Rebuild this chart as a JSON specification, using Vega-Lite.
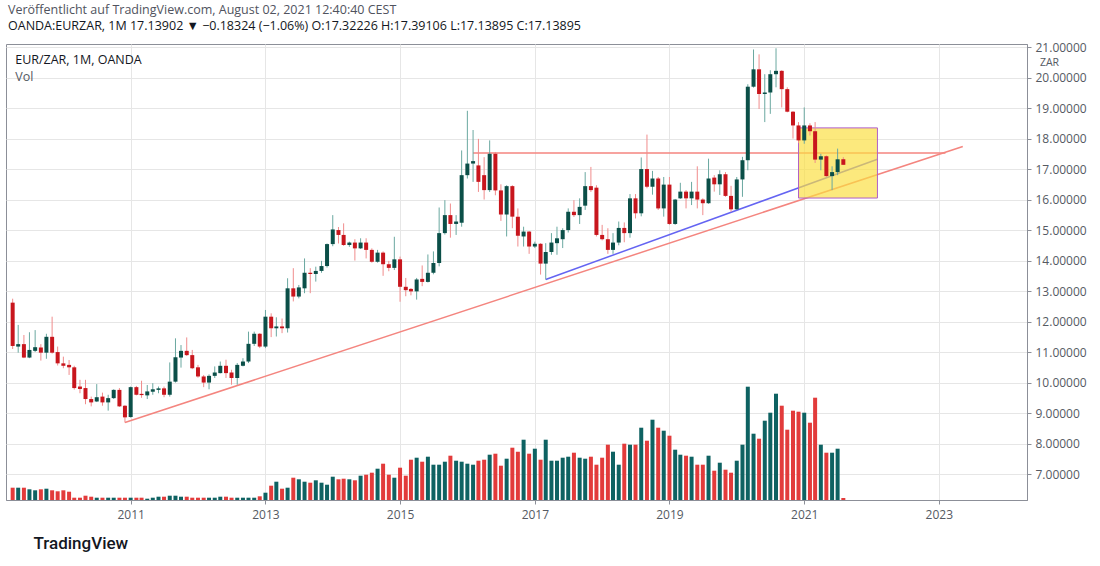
{
  "$schema": "https://vega.github.io/schema/vega-lite/v6.json",
  "autosize": {"type": "none"},
  "width": 1021,
  "height": 456,
  "padding": {"left": 6, "top": 44, "right": 73, "bottom": 66},
  "background": "white",
  "config": {
    "font": "Open Sans",
    "view": {"stroke": "#8c8f98", "strokeWidth": 1},
    "axis": {
      "labelFont": "Open Sans",
      "labelFontSize": 12,
      "labelColor": "#555a63",
      "domainColor": "#8c8f98",
      "tickColor": "#8c8f98",
      "grid": true,
      "gridColor": "#e6e6e6",
      "tickSize": 4,
      "labelOverlap": false
    }
  },
  "title": {
    "text": "Veröffentlicht auf TradingView.com, August 02, 2021 12:40:40 CEST",
    "subtitle": "OANDA:EURZAR, 1M  17.13902 ▼ −0.18324 (−1.06%)  O:17.32226  H:17.39106  L:17.13895  C:17.13895",
    "anchor": "start",
    "frame": "group",
    "font": "Open Sans",
    "fontSize": 12.5,
    "fontWeight": "normal",
    "color": "#50535e",
    "subtitleFont": "Open Sans",
    "subtitleFontSize": 12.5,
    "subtitleColor": "#131722",
    "subtitlePadding": 3,
    "offset": 9,
    "dx": 2
  },
  "data": {
    "values": [
      {"date": "2009-04-01", "open": 12.62, "high": 12.75, "low": 11.1, "close": 11.2, "volume": 123000},
      {"date": "2009-05-01", "open": 11.18, "high": 11.89, "low": 10.98, "close": 11.26, "volume": 123000},
      {"date": "2009-06-01", "open": 11.26, "high": 11.56, "low": 10.8, "close": 10.82, "volume": 123000},
      {"date": "2009-07-01", "open": 10.82, "high": 11.65, "low": 10.8, "close": 11.07, "volume": 107000},
      {"date": "2009-08-01", "open": 11.04, "high": 11.72, "low": 11.0, "close": 11.16, "volume": 97000},
      {"date": "2009-09-01", "open": 11.15, "high": 11.26, "low": 10.72, "close": 10.98, "volume": 107000},
      {"date": "2009-10-01", "open": 10.98, "high": 11.6, "low": 10.78, "close": 11.5, "volume": 113000},
      {"date": "2009-11-01", "open": 11.5, "high": 12.16, "low": 10.95, "close": 10.98, "volume": 97000},
      {"date": "2009-12-01", "open": 11.0, "high": 11.18, "low": 10.56, "close": 10.63, "volume": 87000},
      {"date": "2010-01-01", "open": 10.63, "high": 10.85, "low": 10.47, "close": 10.55, "volume": 97000},
      {"date": "2010-02-01", "open": 10.58, "high": 10.74, "low": 10.25, "close": 10.5, "volume": 83000},
      {"date": "2010-03-01", "open": 10.5, "high": 10.55, "low": 9.77, "close": 9.82, "volume": 23000},
      {"date": "2010-04-01", "open": 9.87, "high": 10.09, "low": 9.65, "close": 9.79, "volume": 23000},
      {"date": "2010-05-01", "open": 9.82, "high": 10.09, "low": 9.29, "close": 9.46, "volume": 43000},
      {"date": "2010-06-01", "open": 9.46, "high": 9.54, "low": 9.22, "close": 9.35, "volume": 33000},
      {"date": "2010-07-01", "open": 9.38, "high": 9.95, "low": 9.36, "close": 9.52, "volume": 23000},
      {"date": "2010-08-01", "open": 9.54, "high": 9.67, "low": 9.24, "close": 9.35, "volume": 23000},
      {"date": "2010-09-01", "open": 9.35, "high": 9.6, "low": 9.08, "close": 9.49, "volume": 23000},
      {"date": "2010-10-01", "open": 9.49, "high": 9.78, "low": 9.46, "close": 9.76, "volume": 23000},
      {"date": "2010-11-01", "open": 9.76, "high": 9.82, "low": 9.2, "close": 9.22, "volume": 23000},
      {"date": "2010-12-01", "open": 9.24, "high": 9.26, "low": 8.69, "close": 8.86, "volume": 23000},
      {"date": "2011-01-01", "open": 8.87, "high": 9.87, "low": 8.85, "close": 9.85, "volume": 23000},
      {"date": "2011-02-01", "open": 9.85, "high": 9.89, "low": 9.58, "close": 9.6, "volume": 23000},
      {"date": "2011-03-01", "open": 9.63, "high": 10.06, "low": 9.5, "close": 9.59, "volume": 23000},
      {"date": "2011-04-01", "open": 9.58, "high": 9.92, "low": 9.46, "close": 9.71, "volume": 13000},
      {"date": "2011-05-01", "open": 9.7, "high": 9.98, "low": 9.6, "close": 9.78, "volume": 23000},
      {"date": "2011-06-01", "open": 9.76, "high": 9.87, "low": 9.65, "close": 9.81, "volume": 33000},
      {"date": "2011-07-01", "open": 9.81, "high": 9.87, "low": 9.52, "close": 9.6, "volume": 33000},
      {"date": "2011-08-01", "open": 9.6, "high": 10.66, "low": 9.54, "close": 10.03, "volume": 43000},
      {"date": "2011-09-01", "open": 10.03, "high": 11.45, "low": 10.0, "close": 10.83, "volume": 43000},
      {"date": "2011-10-01", "open": 10.82, "high": 11.23, "low": 10.49, "close": 11.04, "volume": 33000},
      {"date": "2011-11-01", "open": 11.04, "high": 11.48, "low": 10.87, "close": 10.9, "volume": 33000},
      {"date": "2011-12-01", "open": 10.9, "high": 11.07, "low": 10.44, "close": 10.47, "volume": 23000},
      {"date": "2012-01-01", "open": 10.5, "high": 10.58, "low": 10.16, "close": 10.2, "volume": 23000},
      {"date": "2012-02-01", "open": 10.2, "high": 10.25, "low": 9.85, "close": 10.0, "volume": 23000},
      {"date": "2012-03-01", "open": 10.0, "high": 10.27, "low": 9.78, "close": 10.22, "volume": 23000},
      {"date": "2012-04-01", "open": 10.22, "high": 10.53, "low": 10.15, "close": 10.33, "volume": 23000},
      {"date": "2012-05-01", "open": 10.31, "high": 10.69, "low": 10.3, "close": 10.55, "volume": 33000},
      {"date": "2012-06-01", "open": 10.55, "high": 10.75, "low": 10.15, "close": 10.31, "volume": 33000},
      {"date": "2012-07-01", "open": 10.33, "high": 10.42, "low": 9.93, "close": 10.15, "volume": 23000},
      {"date": "2012-08-01", "open": 10.15, "high": 10.64, "low": 9.93, "close": 10.58, "volume": 23000},
      {"date": "2012-09-01", "open": 10.55, "high": 10.8, "low": 10.53, "close": 10.69, "volume": 23000},
      {"date": "2012-10-01", "open": 10.69, "high": 11.67, "low": 10.64, "close": 11.27, "volume": 23000},
      {"date": "2012-11-01", "open": 11.27, "high": 11.67, "low": 11.2, "close": 11.6, "volume": 23000},
      {"date": "2012-12-01", "open": 11.6, "high": 11.62, "low": 11.13, "close": 11.18, "volume": 37000},
      {"date": "2013-01-01", "open": 11.18, "high": 12.38, "low": 11.13, "close": 12.16, "volume": 73000},
      {"date": "2013-02-01", "open": 12.16, "high": 12.27, "low": 11.49, "close": 11.78, "volume": 143000},
      {"date": "2013-03-01", "open": 11.78, "high": 12.14, "low": 11.51, "close": 11.84, "volume": 183000},
      {"date": "2013-04-01", "open": 11.84, "high": 12.1, "low": 11.62, "close": 11.78, "volume": 113000},
      {"date": "2013-05-01", "open": 11.78, "high": 13.42, "low": 11.64, "close": 13.09, "volume": 123000},
      {"date": "2013-06-01", "open": 13.09, "high": 13.75, "low": 12.66, "close": 12.82, "volume": 223000},
      {"date": "2013-07-01", "open": 12.82, "high": 13.2, "low": 12.76, "close": 13.12, "volume": 207000},
      {"date": "2013-08-01", "open": 13.09, "high": 14.07, "low": 12.93, "close": 13.6, "volume": 183000},
      {"date": "2013-09-01", "open": 13.6, "high": 13.75, "low": 12.93, "close": 13.56, "volume": 173000},
      {"date": "2013-10-01", "open": 13.56, "high": 13.8, "low": 13.31, "close": 13.66, "volume": 197000},
      {"date": "2013-11-01", "open": 13.66, "high": 13.99, "low": 13.6, "close": 13.82, "volume": 173000},
      {"date": "2013-12-01", "open": 13.82, "high": 14.56, "low": 13.77, "close": 14.54, "volume": 153000},
      {"date": "2014-01-01", "open": 14.54, "high": 15.49, "low": 14.47, "close": 15.02, "volume": 233000},
      {"date": "2014-02-01", "open": 15.0, "high": 15.1, "low": 14.56, "close": 14.84, "volume": 207000},
      {"date": "2014-03-01", "open": 14.84, "high": 15.22, "low": 14.48, "close": 14.51, "volume": 213000},
      {"date": "2014-04-01", "open": 14.51, "high": 14.62, "low": 14.45, "close": 14.59, "volume": 207000},
      {"date": "2014-05-01", "open": 14.59, "high": 14.7, "low": 14.0, "close": 14.4, "volume": 197000},
      {"date": "2014-06-01", "open": 14.4, "high": 14.73, "low": 14.38, "close": 14.59, "volume": 243000},
      {"date": "2014-07-01", "open": 14.59, "high": 14.73, "low": 14.07, "close": 14.35, "volume": 253000},
      {"date": "2014-08-01", "open": 14.35, "high": 14.4, "low": 13.93, "close": 13.96, "volume": 273000},
      {"date": "2014-09-01", "open": 13.96, "high": 14.35, "low": 13.93, "close": 14.26, "volume": 313000},
      {"date": "2014-10-01", "open": 14.26, "high": 14.3, "low": 13.5, "close": 13.88, "volume": 363000},
      {"date": "2014-11-01", "open": 13.88, "high": 13.99, "low": 13.65, "close": 13.76, "volume": 253000},
      {"date": "2014-12-01", "open": 13.76, "high": 14.78, "low": 13.69, "close": 14.04, "volume": 223000},
      {"date": "2015-01-01", "open": 14.04, "high": 14.13, "low": 12.65, "close": 13.14, "volume": 323000},
      {"date": "2015-02-01", "open": 13.14, "high": 13.43, "low": 12.83, "close": 13.03, "volume": 243000},
      {"date": "2015-03-01", "open": 13.07, "high": 13.1, "low": 12.86, "close": 12.99, "volume": 403000},
      {"date": "2015-04-01", "open": 12.99, "high": 13.43, "low": 12.72, "close": 13.38, "volume": 423000},
      {"date": "2015-05-01", "open": 13.4, "high": 13.84, "low": 13.16, "close": 13.3, "volume": 383000},
      {"date": "2015-06-01", "open": 13.3, "high": 14.2, "low": 13.28, "close": 13.6, "volume": 433000},
      {"date": "2015-07-01", "open": 13.6, "high": 14.3, "low": 13.55, "close": 13.92, "volume": 353000},
      {"date": "2015-08-01", "open": 13.92, "high": 15.74, "low": 13.81, "close": 14.9, "volume": 353000},
      {"date": "2015-09-01", "open": 14.9, "high": 15.98, "low": 14.85, "close": 15.49, "volume": 383000},
      {"date": "2015-10-01", "open": 15.49, "high": 15.87, "low": 14.75, "close": 15.2, "volume": 443000},
      {"date": "2015-11-01", "open": 15.2, "high": 15.49, "low": 14.84, "close": 15.28, "volume": 393000},
      {"date": "2015-12-01", "open": 15.24, "high": 17.61, "low": 15.11, "close": 16.8, "volume": 383000},
      {"date": "2016-01-01", "open": 16.8, "high": 18.91, "low": 16.69, "close": 17.18, "volume": 363000},
      {"date": "2016-02-01", "open": 17.18, "high": 18.28, "low": 16.58, "close": 17.26, "volume": 353000},
      {"date": "2016-03-01", "open": 17.12, "high": 17.99, "low": 16.25, "close": 16.58, "volume": 393000},
      {"date": "2016-04-01", "open": 16.8, "high": 17.39, "low": 16.0, "close": 16.31, "volume": 403000},
      {"date": "2016-05-01", "open": 16.31, "high": 17.94, "low": 16.25, "close": 17.5, "volume": 453000},
      {"date": "2016-06-01", "open": 17.5, "high": 17.56, "low": 16.14, "close": 16.3, "volume": 463000},
      {"date": "2016-07-01", "open": 16.3, "high": 16.5, "low": 15.3, "close": 15.51, "volume": 343000},
      {"date": "2016-08-01", "open": 15.51, "high": 16.47, "low": 14.79, "close": 16.44, "volume": 413000},
      {"date": "2016-09-01", "open": 16.44, "high": 16.47, "low": 15.06, "close": 15.44, "volume": 523000},
      {"date": "2016-10-01", "open": 15.44, "high": 15.71, "low": 14.46, "close": 14.81, "volume": 483000},
      {"date": "2016-11-01", "open": 14.79, "high": 15.11, "low": 14.46, "close": 14.95, "volume": 603000},
      {"date": "2016-12-01", "open": 14.95, "high": 14.97, "low": 14.22, "close": 14.46, "volume": 463000},
      {"date": "2017-01-01", "open": 14.46, "high": 14.62, "low": 14.41, "close": 14.55, "volume": 513000},
      {"date": "2017-02-01", "open": 14.55, "high": 14.57, "low": 13.54, "close": 13.9, "volume": 403000},
      {"date": "2017-03-01", "open": 13.9, "high": 14.57, "low": 13.38, "close": 14.28, "volume": 603000},
      {"date": "2017-04-01", "open": 14.28, "high": 14.9, "low": 14.19, "close": 14.59, "volume": 393000},
      {"date": "2017-05-01", "open": 14.57, "high": 15.11, "low": 14.19, "close": 14.73, "volume": 393000},
      {"date": "2017-06-01", "open": 14.7, "high": 15.06, "low": 14.41, "close": 15.0, "volume": 423000},
      {"date": "2017-07-01", "open": 15.0, "high": 15.71, "low": 14.92, "close": 15.6, "volume": 433000},
      {"date": "2017-08-01", "open": 15.6, "high": 15.98, "low": 15.43, "close": 15.49, "volume": 473000},
      {"date": "2017-09-01", "open": 15.49, "high": 16.04, "low": 15.2, "close": 15.76, "volume": 423000},
      {"date": "2017-10-01", "open": 15.8, "high": 16.9, "low": 15.66, "close": 16.44, "volume": 413000},
      {"date": "2017-11-01", "open": 16.44, "high": 17.07, "low": 16.25, "close": 16.31, "volume": 433000},
      {"date": "2017-12-01", "open": 16.39, "high": 16.47, "low": 14.79, "close": 14.84, "volume": 353000},
      {"date": "2018-01-01", "open": 14.84, "high": 15.17, "low": 14.66, "close": 14.7, "volume": 423000},
      {"date": "2018-02-01", "open": 14.7, "high": 15.06, "low": 14.22, "close": 14.35, "volume": 553000},
      {"date": "2018-03-01", "open": 14.35, "high": 14.9, "low": 14.22, "close": 14.59, "volume": 483000},
      {"date": "2018-04-01", "open": 14.59, "high": 15.28, "low": 14.5, "close": 15.07, "volume": 353000},
      {"date": "2018-05-01", "open": 15.07, "high": 15.25, "low": 14.6, "close": 14.9, "volume": 563000},
      {"date": "2018-06-01", "open": 14.9, "high": 16.18, "low": 14.75, "close": 16.04, "volume": 553000},
      {"date": "2018-07-01", "open": 16.04, "high": 16.18, "low": 15.38, "close": 15.55, "volume": 553000},
      {"date": "2018-08-01", "open": 15.55, "high": 17.38, "low": 15.45, "close": 17.0, "volume": 723000},
      {"date": "2018-09-01", "open": 17.0, "high": 18.13, "low": 16.37, "close": 16.42, "volume": 593000},
      {"date": "2018-10-01", "open": 16.42, "high": 16.94, "low": 16.16, "close": 16.69, "volume": 803000},
      {"date": "2018-11-01", "open": 16.69, "high": 16.74, "low": 15.66, "close": 15.71, "volume": 723000},
      {"date": "2018-12-01", "open": 15.71, "high": 16.74, "low": 15.44, "close": 16.49, "volume": 693000},
      {"date": "2019-01-01", "open": 16.49, "high": 16.74, "low": 15.17, "close": 15.2, "volume": 643000},
      {"date": "2019-02-01", "open": 15.2, "high": 16.02, "low": 15.17, "close": 16.0, "volume": 503000},
      {"date": "2019-03-01", "open": 16.04, "high": 16.55, "low": 16.02, "close": 16.26, "volume": 453000},
      {"date": "2019-04-01", "open": 16.26, "high": 16.31, "low": 15.71, "close": 16.04, "volume": 443000},
      {"date": "2019-05-01", "open": 16.04, "high": 16.58, "low": 15.82, "close": 16.26, "volume": 433000},
      {"date": "2019-06-01", "open": 16.26, "high": 17.09, "low": 15.71, "close": 16.0, "volume": 353000},
      {"date": "2019-07-01", "open": 16.0, "high": 16.04, "low": 15.49, "close": 15.88, "volume": 353000},
      {"date": "2019-08-01", "open": 15.88, "high": 17.34, "low": 15.86, "close": 16.69, "volume": 443000},
      {"date": "2019-09-01", "open": 16.72, "high": 16.8, "low": 16.26, "close": 16.5, "volume": 293000},
      {"date": "2019-10-01", "open": 16.5, "high": 16.96, "low": 16.15, "close": 16.83, "volume": 373000},
      {"date": "2019-11-01", "open": 16.83, "high": 16.9, "low": 16.09, "close": 16.12, "volume": 303000},
      {"date": "2019-12-01", "open": 16.12, "high": 16.45, "low": 15.6, "close": 15.68, "volume": 273000},
      {"date": "2020-01-01", "open": 15.68, "high": 16.74, "low": 15.66, "close": 16.66, "volume": 393000},
      {"date": "2020-02-01", "open": 16.66, "high": 17.4, "low": 16.09, "close": 17.29, "volume": 553000},
      {"date": "2020-03-01", "open": 17.29, "high": 19.78, "low": 16.96, "close": 19.7, "volume": 1133000},
      {"date": "2020-04-01", "open": 19.7, "high": 20.92, "low": 19.67, "close": 20.27, "volume": 663000},
      {"date": "2020-05-01", "open": 20.27, "high": 20.76, "low": 18.97, "close": 19.46, "volume": 613000},
      {"date": "2020-06-01", "open": 19.46, "high": 20.11, "low": 18.54, "close": 19.51, "volume": 793000},
      {"date": "2020-07-01", "open": 19.51, "high": 20.24, "low": 18.81, "close": 20.11, "volume": 873000},
      {"date": "2020-08-01", "open": 20.11, "high": 20.96, "low": 19.68, "close": 20.22, "volume": 1063000},
      {"date": "2020-09-01", "open": 20.22, "high": 20.24, "low": 19.02, "close": 19.62, "volume": 943000},
      {"date": "2020-10-01", "open": 19.62, "high": 19.68, "low": 18.86, "close": 18.88, "volume": 703000},
      {"date": "2020-11-01", "open": 18.88, "high": 18.9, "low": 18.0, "close": 18.43, "volume": 893000},
      {"date": "2020-12-01", "open": 18.43, "high": 18.54, "low": 17.85, "close": 17.94, "volume": 883000},
      {"date": "2021-01-01", "open": 17.94, "high": 19.02, "low": 17.83, "close": 18.43, "volume": 873000},
      {"date": "2021-02-01", "open": 18.43, "high": 18.5, "low": 18.1, "close": 18.24, "volume": 773000},
      {"date": "2021-03-01", "open": 18.24, "high": 18.54, "low": 17.2, "close": 17.31, "volume": 1023000},
      {"date": "2021-04-01", "open": 17.31, "high": 17.5, "low": 16.96, "close": 17.42, "volume": 553000},
      {"date": "2021-05-01", "open": 17.42, "high": 17.45, "low": 16.74, "close": 16.77, "volume": 473000},
      {"date": "2021-06-01", "open": 16.77, "high": 17.09, "low": 16.31, "close": 16.9, "volume": 473000},
      {"date": "2021-07-01", "open": 16.9, "high": 17.67, "low": 16.8, "close": 17.32, "volume": 513000},
      {"date": "2021-08-01", "open": 17.32226, "high": 17.39106, "low": 17.13895, "close": 17.13895, "volume": 20000}
    ]
  },
  "encoding": {
    "x": {
      "field": "date",
      "type": "temporal",
      "title": "TradingView",
      "scale": {
        "type": "utc",
        "nice": false,
        "domain": [
          {"year": 2009, "month": 3, "date": 23, "utc": true},
          {"year": 2024, "month": 3, "date": 27, "utc": true}
        ]
      },
      "axis": {
        "values": [
          {"year": 2011, "utc": true},
          {"year": 2013, "utc": true},
          {"year": 2015, "utc": true},
          {"year": 2017, "utc": true},
          {"year": 2019, "utc": true},
          {"year": 2021, "utc": true},
          {"year": 2023, "utc": true}
        ],
        "format": "%Y",
        "formatType": "utc",
        "grid": true,
        "tickCount": 20,
        "labelOverlap": false,
        "labelPadding": 5,
        "titleFont": "Roboto",
        "titleFontSize": 17,
        "titleFontWeight": 500,
        "titleColor": "#131722",
        "titleAnchor": "start",
        "titleAlign": "left",
        "titleX": 27,
        "titlePadding": 15
      }
    }
  },
  "layer": [
    {
      "mark": {"type": "bar", "size": 4, "clip": true},
      "encoding": {
        "y": {
          "field": "volume",
          "type": "quantitative",
          "scale": {"domain": [0, 4560000], "nice": false},
          "axis": null
        },
        "color": {
          "condition": {"test": "datum.close >= datum.open", "value": "#0e6262"},
          "value": "#e23b3b"
        }
      }
    },
    {
      "layer": [
        {
          "data": {"values": [{"date": "2016-02-01", "date2": "2023-02-06", "price": 17.53}]},
          "mark": {"type": "rule", "color": "#f4857f", "strokeWidth": 1.5},
          "encoding": {
            "x2": {"field": "date2"},
            "y": {
              "field": "price",
              "type": "quantitative",
              "scale": {"domain": [6.15, 21.1], "nice": false, "zero": false},
              "axis": {
                "orient": "right",
                "values": [7, 8, 9, 10, 11, 12, 13, 14, 15, 16, 17, 18, 19, 20, 21],
                "tickCount": 20,
                "format": ".5f",
                "grid": true,
                "labelOverlap": false,
                "labelPadding": 4,
                "title": "ZAR",
                "titleAngle": 0,
                "titleFont": "Open Sans",
                "titleFontSize": 10.5,
                "titleFontWeight": "normal",
                "titleColor": "#555a63",
                "titleAlign": "center",
                "titleBaseline": "middle",
                "titleX": 22,
                "titleY": 18
              }
            }
          }
        },
        {
          "data": {"values": [{"date": "2010-12-01", "price": 8.69}, {"date": "2023-05-11", "price": 17.74}]},
          "mark": {"type": "line", "color": "#f4857f", "strokeWidth": 1.5},
          "encoding": {
            "y": {"field": "price", "type": "quantitative", "scale": {"domain": [6.15, 21.1], "nice": false, "zero": false}}
          }
        },
        {
          "data": {"values": [{"date": "2017-03-01", "price": 13.38}, {"date": "2022-02-02", "price": 17.32}]},
          "mark": {"type": "line", "color": "#6464f2", "strokeWidth": 1.5},
          "encoding": {
            "y": {"field": "price", "type": "quantitative", "scale": {"domain": [6.15, 21.1], "nice": false, "zero": false}}
          }
        },
        {
          "data": {"values": [{"date": "2020-12-01", "date2": "2022-02-02", "low": 16.05, "high": 18.35}]},
          "mark": {"type": "rect", "fill": "#fadf3f", "fillOpacity": 0.68, "stroke": "#b05fc8", "strokeWidth": 1},
          "encoding": {
            "x2": {"field": "date2"},
            "y": {"field": "low", "type": "quantitative", "scale": {"domain": [6.15, 21.1], "nice": false, "zero": false}},
            "y2": {"field": "high"}
          }
        },
        {
          "mark": {"type": "rule", "strokeWidth": 1, "clip": true},
          "encoding": {
            "y": {"field": "low", "type": "quantitative", "scale": {"domain": [6.15, 21.1], "nice": false, "zero": false}},
            "y2": {"field": "high"},
            "color": {
              "condition": {"test": "datum.close >= datum.open", "value": "#6aa8a0"},
              "value": "#f08c8c"
            }
          }
        },
        {
          "mark": {"type": "bar", "size": 4, "clip": true},
          "encoding": {
            "y": {"field": "open", "type": "quantitative", "scale": {"domain": [6.15, 21.1], "nice": false, "zero": false}},
            "y2": {"field": "close"},
            "color": {
              "condition": {"test": "datum.close >= datum.open", "value": "#0b4f48"},
              "value": "#c8161d"
            }
          }
        },
        {
          "transform": [{"filter": "utcyear(datum.date) == 2009 && utcmonth(datum.date) == 4"}],
          "mark": {"type": "text", "align": "left", "baseline": "middle", "dx": -3, "font": "Open Sans", "fontSize": 12.5, "color": "#131722"},
          "encoding": {
            "y": {"datum": 20.57, "type": "quantitative"},
            "text": {"value": "EUR/ZAR, 1M, OANDA"}
          }
        },
        {
          "transform": [{"filter": "utcyear(datum.date) == 2009 && utcmonth(datum.date) == 4"}],
          "mark": {"type": "text", "align": "left", "baseline": "middle", "dx": -3, "font": "Open Sans", "fontSize": 12.5, "color": "#555a63"},
          "encoding": {
            "y": {"datum": 20.02, "type": "quantitative"},
            "text": {"value": "Vol"}
          }
        }
      ]
    }
  ],
  "resolve": {"scale": {"y": "independent"}}
}
